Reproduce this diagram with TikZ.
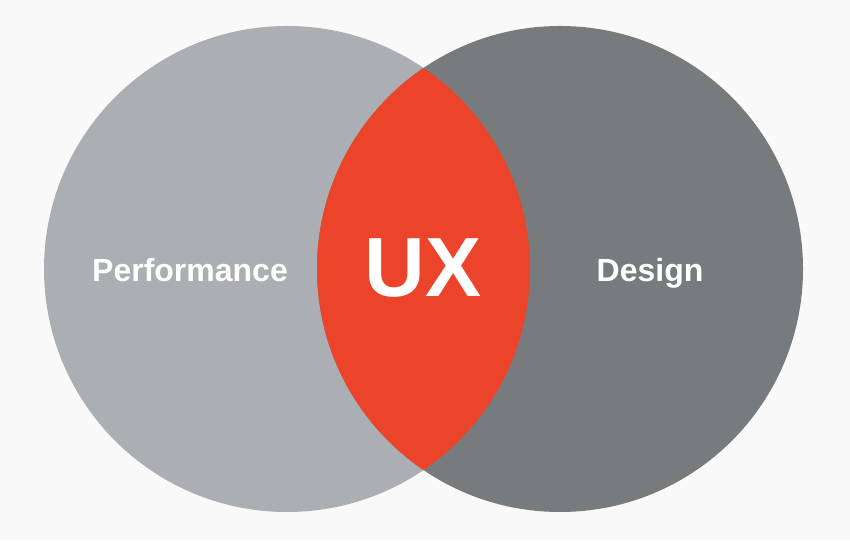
\documentclass[tikz,border=0pt]{standalone}
\usepackage{fontspec}
\setmainfont{Liberation Sans}
\definecolor{bgc}{HTML}{F9F9F9}
\definecolor{leftc}{HTML}{ABAEB2}
\definecolor{rightc}{HTML}{777B7E}
\definecolor{uxred}{HTML}{EC442A}
\begin{document}
\begin{tikzpicture}[x=1pt,y=1pt,
  lbl/.style={text=white,font=\fontsize{32}{32}\selectfont\bfseries,inner sep=0pt,anchor=base},
  uxlbl/.style={text=white,font=\fontsize{84}{84}\selectfont\bfseries,inner sep=0pt,anchor=base}]
\fill[bgc] (0,0) rectangle (850,540);
\useasboundingbox (0,0) rectangle (850,540);
\coordinate (cl) at (287,271);
\coordinate (cr) at (560,271);
\fill[leftc] (cl) circle (243);
\fill[rightc] (cr) circle (243);
\begin{scope}
\clip (cl) circle (243);
\fill[uxred] (cr) circle (243);
\end{scope}
\node[lbl] (perf) at (190,258) {Performance};
\node[lbl] (design) at (650,258) {Design};
\node[uxlbl] (ux) at (423,243) {UX};
\end{tikzpicture}
\end{document}
